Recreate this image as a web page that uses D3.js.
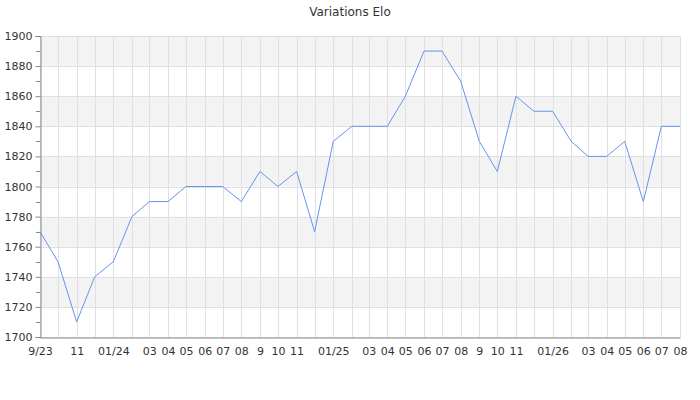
<!DOCTYPE html>
<html><head><meta charset="utf-8">
<script src="https://cdn.jsdelivr.net/npm/d3@7/dist/d3.min.js"></script>
<style>body{margin:0;background:#fff;} svg{display:block;font-family:"DejaVu Sans",sans-serif;}</style>
</head><body>
<svg id="c" width="700" height="400"></svg>
<script>
const months = ["2023-09","2023-10","2023-11","2023-12","2024-01","2024-02","2024-03","2024-04","2024-05","2024-06","2024-07","2024-08","2024-09","2024-10","2024-11","2024-12","2025-01","2025-02","2025-03","2025-04","2025-05","2025-06","2025-07","2025-08","2025-09","2025-10","2025-11","2025-12","2026-01","2026-02","2026-03","2026-04","2026-05","2026-06","2026-07","2026-08"];
const elo = [1770,1750,1710,1740,1750,1780,1790,1790,1800,1800,1800,1790,1810,1800,1810,1770,1830,1840,1840,1840,1860,1890,1890,1870,1830,1810,1860,1850,1850,1830,1820,1820,1830,1790,1840,1840];
const tickMonths = ["2023-09","2023-11","2024-01","2024-03","2024-04","2024-05","2024-06","2024-07","2024-08","2024-09","2024-10","2024-11","2025-01","2025-03","2025-04","2025-05","2025-06","2025-07","2025-08","2025-09","2025-10","2025-11","2026-01","2026-03","2026-04","2026-05","2026-06","2026-07","2026-08"];
const tickLabels = ["9/23","11","01/24","03","04","05","06","07","08","9","10","11","01/25","03","04","05","06","07","08","9","10","11","01/26","03","04","05","06","07","08"];
const yTicks = [1700,1720,1740,1760,1780,1800,1820,1840,1860,1880,1900];
const yMinor = [1710,1730,1750,1770,1790,1810,1830,1850,1870,1890];
const title = "Variations Elo";

const parse = d3.timeParse("%Y-%m");
const data = months.map((m,i)=>({date:parse(m), v:elo[i]}));
const svg = d3.select("#c");
const L=40, R=680, T=36, B=337;
const x = d3.scaleTime().domain(d3.extent(data,d=>d.date)).range([L,R]);
const y = d3.scaleLinear().domain([1700,1900]).range([B,T]);

// bands
const bands = [];
for (let i=0;i<yTicks.length-1;i++){ if (i%2===1) bands.push([yTicks[i],yTicks[i+1]]); }
svg.append("g").selectAll("rect").data(bands).join("rect")
  .attr("x",L).attr("width",R-L)
  .attr("y",d=>y(d[1])).attr("height",d=>y(d[0])-y(d[1]))
  .attr("fill","#f3f3f3");

// vertical grid
svg.append("g").selectAll("line").data(data).join("line")
  .attr("x1",d=>Math.round(x(d.date))+0.5).attr("x2",d=>Math.round(x(d.date))+0.5)
  .attr("y1",T).attr("y2",B).attr("stroke","#e0e0e0").attr("stroke-width",1);
// horizontal grid
svg.append("g").selectAll("line").data(yTicks).join("line")
  .attr("x1",L).attr("x2",R)
  .attr("y1",d=>Math.round(y(d))+0.5).attr("y2",d=>Math.round(y(d))+0.5)
  .attr("stroke","#e0e0e0").attr("stroke-width",1);

// y axis
const yAxis = svg.append("g").attr("transform",`translate(${L+0.5},0)`)
  .call(d3.axisLeft(y).tickValues(yTicks).tickSize(5).tickPadding(3).tickFormat(d3.format("d")));
yAxis.select(".domain").attr("stroke","#888");
yAxis.selectAll(".tick line").attr("stroke","#888");
yAxis.selectAll("text").attr("fill","#333").attr("font-size",11).attr("font-family","DejaVu Sans");
svg.append("g").selectAll("line").data(yMinor).join("line")
  .attr("x1",L-4).attr("x2",L)
  .attr("y1",d=>Math.round(y(d))+0.5).attr("y2",d=>Math.round(y(d))+0.5)
  .attr("stroke","#888");

// x axis
const xAxis = svg.append("g").attr("transform",`translate(0,${B+0.5})`)
  .call(d3.axisBottom(x).tickValues(tickMonths.map(parse)).tickSize(0).tickPadding(10)
    .tickFormat((d,i)=>tickLabels[i]));
xAxis.select(".domain").attr("stroke","#888");
xAxis.selectAll("text").attr("fill","#333").attr("font-size",11).attr("font-family","DejaVu Sans");

// line
svg.append("path").datum(data)
  .attr("fill","none").attr("stroke","#6495ed").attr("stroke-width",1)
  .attr("d",d3.line().x(d=>x(d.date)).y(d=>y(d.v)));

svg.append("text").attr("x",350).attr("y",16).attr("text-anchor","middle")
  .attr("font-size",12).attr("fill","#333").text(title);
</script>
</body></html>
